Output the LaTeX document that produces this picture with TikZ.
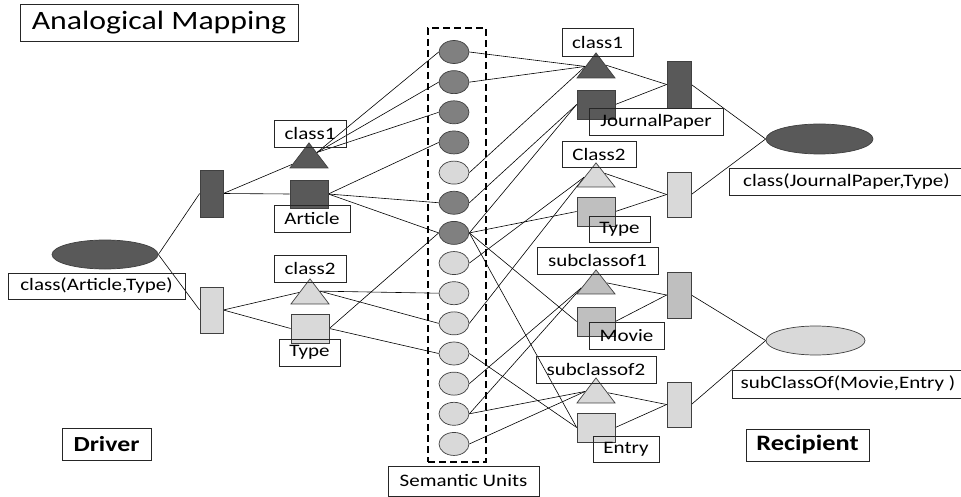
\documentclass[tikz,border=0pt]{standalone}
\usepackage{fontspec}
\setmainfont{Carlito}[FakeStretch=1.2]
\usetikzlibrary{shapes.geometric,calc,backgrounds}
\definecolor{dk}{HTML}{595959}
\definecolor{sd}{HTML}{808080}
\definecolor{lt}{HTML}{D9D9D9}
\definecolor{md}{HTML}{BFBFBF}
\definecolor{ol}{HTML}{404040}
\begin{document}
\begin{tikzpicture}[x=1pt,y=-1pt,
  lbl/.style={draw=black!85, line width=0.7pt, inner sep=0pt, font=\fontsize{17.5}{20}\selectfont},
  shp/.style={draw=ol, line width=0.7pt, inner sep=0pt},
  sem/.style={shp, ellipse, minimum width=30pt, minimum height=23pt},
  bar/.style={shp, rectangle, minimum width=23pt, minimum height=46pt},
  sq/.style={shp, rectangle, minimum width=38pt, minimum height=29pt},
  tri/.style={shp, isosceles triangle, isosceles triangle stretches, shape border rotate=90, minimum width=38pt, minimum height=25pt, anchor=apex},
  link/.style={black, line width=0.6pt},
]
\useasboundingbox (0,0) rectangle (961,497);

% title
\node[lbl, minimum width=278pt, minimum height=37pt, font=\fontsize{26.5}{30}\selectfont] (title) at (159,22.5) {Analogical Mapping};

% driver
\node[shp, ellipse, fill=dk, minimum width=106pt, minimum height=29pt] (DE) at (105,254.5) {};
\node[lbl, minimum width=177pt, minimum height=26pt] (DEl) at (96.5,286) {class(Article,Type)};
\node[bar, fill=dk, minimum width=23pt, minimum height=47pt] (DR1) at (211.5,193.5) {};
\node[bar, fill=lt, minimum width=23pt] (DR2) at (211.5,310) {};
\node[tri, fill=dk] (c1D) at (309,142) {};
\node[sq, fill=dk, minimum height=28pt] (artD) at (309,194) {};
\node[tri, fill=lt] (c2D) at (310,278) {};
\node[sq, fill=lt] (typD) at (310,328.5) {};
\node[lbl, minimum width=72pt, minimum height=27pt] (c1Dl) at (310,133.5) {class1};
\node[lbl, minimum width=76pt, minimum height=27pt] (artDl) at (312,218.5) {Article};
\node[lbl, minimum width=72pt, minimum height=27pt] (c2Dl) at (310,268.5) {class2};
\node[lbl, minimum width=61pt, minimum height=27pt] (typDl) at (309.5,352.5) {Type};
\node[lbl, minimum width=89pt, minimum height=32pt, font=\fontsize{21.5}{24}\selectfont\bfseries] (drv) at (106.5,444) {Driver};

% semantic units
\node[draw, line width=2pt, dash pattern=on 7pt off 4pt, minimum width=58pt, minimum height=434pt, inner sep=0pt] (sbox) at (457,245) {};
\foreach \i/\c in {1/sd,2/sd,3/sd,4/sd,5/lt,6/sd,7/sd,8/lt,9/lt,10/lt,11/lt,12/lt,13/lt,14/lt}
  \node[sem, fill=\c] (e\i) at (454,{52+30.15*(\i-1)}) {};
\node[lbl, minimum width=151pt, minimum height=30pt] (sul) at (463.5,481) {Semantic Units};

% recipient
\node[tri, fill=dk] (c1R) at (596,52) {};
\node[sq, fill=dk] (jpR) at (596,104.5) {};
\node[bar, fill=dk, minimum width=24pt, minimum height=47pt] (RR1) at (679,84.5) {};
\node[tri, fill=lt, minimum height=24pt] (c2R) at (596,162) {};
\node[sq, fill=md] (typR) at (596,211.5) {};
\node[bar, fill=lt, minimum width=24pt, minimum height=45pt] (RR2) at (679,194.5) {};
\node[tri, fill=md, minimum height=24pt] (s1R) at (596,269) {};
\node[sq, fill=md] (movR) at (596,321.5) {};
\node[bar, fill=md, minimum width=24pt] (RR3) at (679,295) {};
\node[tri, fill=lt] (s2R) at (596,377) {};
\node[sq, fill=lt] (entR) at (596,427.5) {};
\node[bar, fill=lt, minimum width=24pt, minimum height=45pt] (RR4) at (679,404.5) {};
\node[shp, ellipse, fill=dk, minimum width=107pt, minimum height=30pt] (JPE) at (819.5,139) {};
\node[shp, ellipse, fill=lt, minimum width=99pt, minimum height=29pt] (SCE) at (815.5,340.5) {};

\node[lbl, minimum width=71pt, minimum height=28pt] (c1Rl) at (597.5,42) {class1};
\node[lbl, minimum width=134pt, minimum height=27pt] (jpRl) at (656,121.5) {JournalPaper};
\node[lbl, minimum width=74pt, minimum height=26pt] (c2Rl) at (599,154) {Class2};
\node[lbl, minimum width=61pt, minimum height=26pt] (typRl) at (619.5,229) {Type};
\node[lbl, minimum width=121pt, minimum height=27pt] (s1Rl) at (597.5,260.5) {subclassof1};
\node[lbl, minimum width=75pt, minimum height=27pt] (movRl) at (626.5,335.5) {Movie};
\node[lbl, minimum width=120pt, minimum height=27pt] (s2Rl) at (596,369.5) {subclassof2};
\node[lbl, minimum width=66pt, minimum height=26pt] (entRl) at (626,449) {Entry};
\node[lbl, minimum width=235pt, minimum height=27pt] (JPEl) at (846.5,181.5) {class(JournalPaper,Type)};
\node[lbl, minimum width=232pt, minimum height=28pt] (SCEl) at (848,384) {subClassOf(Movie,Entry )};
\node[lbl, minimum width=123pt, minimum height=32pt, font=\fontsize{22}{25}\selectfont\bfseries] (rcp) at (807.5,445) {Recipient};

% connection points on triangles
\coordinate (c1DL) at ($(c1D.apex)!0.85!(c1D.left corner)$);
\coordinate (c1DR) at ($(c1D.apex)!0.4!(c1D.right corner)$);
\coordinate (c2DL) at ($(c2D.apex)!0.55!(c2D.left corner)$);
\coordinate (c2DR) at ($(c2D.apex)!0.5!(c2D.right corner)$);
\coordinate (c1RL) at ($(c1R.apex)!0.55!(c1R.left corner)$);
\coordinate (c1RR) at ($(c1R.apex)!0.5!(c1R.right corner)$);
\coordinate (c2RL) at ($(c2R.apex)!0.6!(c2R.left corner)$);
\coordinate (c2RR) at ($(c2R.apex)!0.45!(c2R.right corner)$);
\coordinate (s1RL) at ($(s1R.apex)!0.75!(s1R.left corner)$);
\coordinate (s1RR) at ($(s1R.apex)!0.55!(s1R.right corner)$);
\coordinate (s2RL) at ($(s2R.apex)!0.55!(s2R.left corner)$);
\coordinate (s2RR) at ($(s2R.apex)!0.6!(s2R.right corner)$);

\begin{scope}[on background layer]
  \draw[link] (DE.east) -- (DR1.west);
  \draw[link] (DE.east) -- (DR2.west);
  \draw[link] (DR1.east) -- (c1DL);
  \draw[link] (DR1.east) -- (artD.west);
  \draw[link] (DR2.east) -- (c2DL);
  \draw[link] (DR2.east) -- (typD.west);
  \foreach \i in {1,2,3} \draw[link] (c1DR) -- (e\i.west);
  \foreach \i in {4,6,7} \draw[link] (artD.east) -- (e\i.west);
  \foreach \i in {9,10} \draw[link] (c2DR) -- (e\i.west);
  \foreach \i in {7,11} \draw[link] (typD.east) -- (e\i.west);
  \foreach \i in {1,2,5} \draw[link] (e\i.east) -- (c1RL);
  \foreach \i in {6,7} \draw[link] (e\i.east) -- (jpR.west);
  \foreach \i in {8,10} \draw[link] (e\i.east) -- (c2RL);
  \draw[link] (e7.east) -- (typR.west);
  \foreach \i in {12,13} \draw[link] (e\i.east) -- (s1RL);
  \draw[link] (e7.east) -- (movR.west);
  \foreach \i in {13,14} \draw[link] (e\i.east) -- (s2RL);
  \foreach \i in {7,11} \draw[link] (e\i.east) -- (entR.west);
  \draw[link] (c1RR) -- (RR1.west);
  \draw[link] (jpR.east) -- (RR1.west);
  \draw[link] (c2RR) -- (RR2.west);
  \draw[link] (typR.east) -- (RR2.west);
  \draw[link] (s1RR) -- (RR3.west);
  \draw[link] (movR.east) -- (RR3.west);
  \draw[link] (s2RR) -- (RR4.west);
  \draw[link] (entR.east) -- (RR4.west);
  \draw[link] (RR1.east) -- (JPE.west);
  \draw[link] (RR2.east) -- (JPE.west);
  \draw[link] (RR3.east) -- (SCE.west);
  \draw[link] (RR4.east) -- (SCE.west);
\end{scope}
\end{tikzpicture}
\end{document}
